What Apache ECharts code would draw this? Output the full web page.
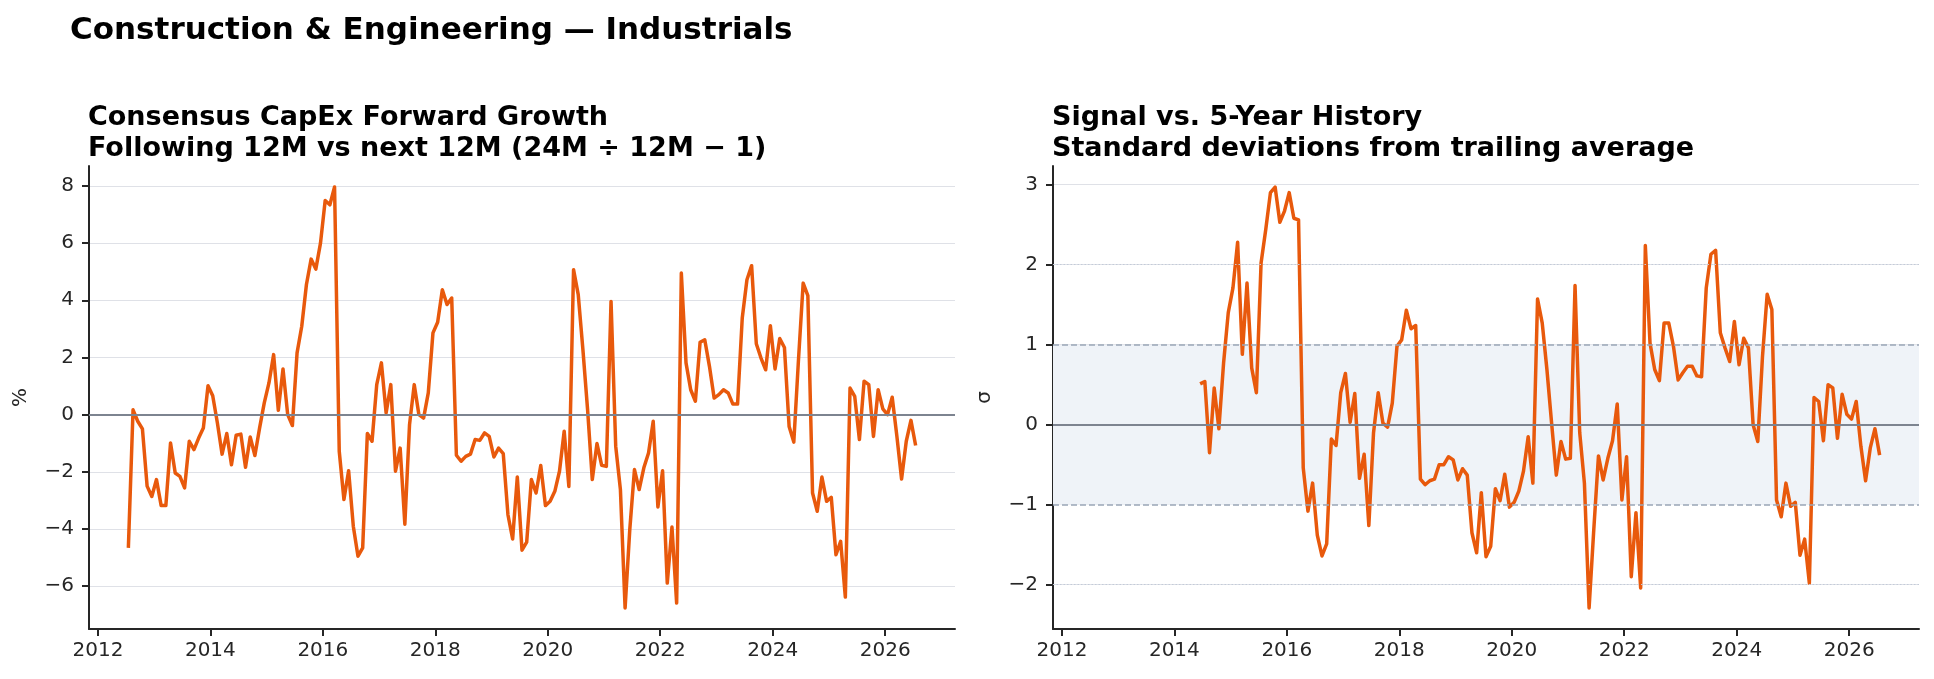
<!DOCTYPE html>
<html>
<head>
<meta charset="utf-8">
<script src="https://cdn.jsdelivr.net/npm/echarts@6.0.0/dist/echarts.min.js"></script>
<style>
html,body{margin:0;padding:0;background:#fff}
#main{width:1934px;height:679px}
</style>
</head>
<body>
<div id="main"></div>
<script>
// monthly series, first point 2012-07
var growthStart = [2012, 7];
var growth = [
    -4.66, 0.17, -0.23, -0.50, -2.50, -2.86,
    -2.27, -3.18, -3.18, -0.99, -2.04, -2.16, -2.56, -0.93, -1.22, -0.82, -0.47, 1.01,
    0.66, -0.29, -1.38, -0.66, -1.75, -0.72, -0.68, -1.84, -0.78, -1.43, -0.47, 0.41,
    1.11, 2.10, 0.15, 1.60, 0.00, -0.38, 2.16, 3.09, 4.55, 5.44, 5.09, 6.00,
    7.49, 7.34, 7.96, -1.28, -2.97, -1.96, -3.90, -4.95, -4.66, -0.66, -0.93, 1.05,
    1.81, 0.06, 1.05, -1.98, -1.17, -3.83, -0.35, 1.05, 0.00, -0.12, 0.76, 2.86,
    3.23, 4.37, 3.85, 4.08, -1.42, -1.63, -1.46, -1.38, -0.87, -0.90, -0.64, -0.76,
    -1.48, -1.17, -1.36, -3.50, -4.35, -2.18, -4.74, -4.46, -2.27, -2.74, -1.78, -3.18,
    -3.03, -2.68, -1.98, -0.58, -2.51, 5.07, 4.20, 2.27, 0.17, -2.27, -1.01, -1.77,
    -1.81, 3.96, -1.11, -2.62, -6.76, -4.02, -1.92, -2.62, -1.86, -1.34, -0.23, -3.23,
    -1.96, -5.89, -3.93, -6.59, 4.95, 1.81, 0.87, 0.47, 2.53, 2.62, 1.69, 0.58,
    0.70, 0.87, 0.76, 0.37, 0.37, 3.38, 4.72, 5.21, 2.48, 1.98, 1.57, 3.11,
    1.60, 2.66, 2.35, -0.41, -0.96, 1.92, 4.60, 4.16, -2.74, -3.38, -2.18, -3.03,
    -2.89, -4.90, -4.43, -6.38, 0.93, 0.64, -0.87, 1.17, 1.05, -0.76, 0.87, 0.20,
    0.00, 0.61, -0.76, -2.25, -0.93, -0.20, -1.08
];
// z-score vs 5y history, first point 2014-06
var zStart = [2014, 6];
var zscore = [
    0.51, 0.54, -0.35, 0.46, -0.05, 0.77, 1.40,
    1.71, 2.28, 0.88, 1.77, 0.71, 0.40, 2.02, 2.44, 2.90, 2.97, 2.53, 2.67,
    2.90, 2.58, 2.56, -0.54, -1.08, -0.73, -1.38, -1.64, -1.49, -0.18, -0.26, 0.40,
    0.64, 0.03, 0.39, -0.67, -0.37, -1.26, -0.10, 0.40, 0.02, -0.03, 0.27, 0.98,
    1.06, 1.43, 1.20, 1.24, -0.68, -0.75, -0.70, -0.68, -0.50, -0.50, -0.40, -0.44,
    -0.69, -0.55, -0.63, -1.35, -1.60, -0.85, -1.65, -1.52, -0.80, -0.95, -0.62, -1.03,
    -0.97, -0.83, -0.58, -0.15, -0.73, 1.57, 1.27, 0.69, 0.02, -0.63, -0.21, -0.43,
    -0.42, 1.74, -0.10, -0.73, -2.29, -1.31, -0.39, -0.69, -0.42, -0.20, 0.26, -0.94,
    -0.40, -1.90, -1.10, -2.04, 2.24, 1.02, 0.69, 0.55, 1.27, 1.27, 0.98, 0.56,
    0.65, 0.73, 0.73, 0.61, 0.60, 1.71, 2.13, 2.18, 1.15, 0.96, 0.79, 1.29,
    0.75, 1.08, 0.96, 0.00, -0.21, 0.85, 1.63, 1.44, -0.94, -1.15, -0.73, -1.02,
    -0.97, -1.63, -1.43, -1.98, 0.34, 0.29, -0.20, 0.50, 0.46, -0.17, 0.38, 0.13,
    0.07, 0.29, -0.27, -0.70, -0.29, -0.05, -0.38
];
var yearTicks = [2012, 2014, 2016, 2018, 2020, 2022, 2024, 2026];
var growthTicks = [-6, -4, -2, 0, 2, 4, 6, 8];
var zTicks = [-2, -1, 0, 1, 2, 3];

var FONT = 'DejaVu Sans';
var INK = '#262626';
var ORANGE = '#e8590c';

// month index -> decimal year (mid month)
function toPoints(start, vals) {
    return vals.map(function (v, i) {
        var m = start[1] - 1 + i;
        var y = start[0] + Math.floor(m / 12);
        return [y + ((m % 12) + 0.5) / 12, v];
    });
}
var growthPts = toPoints(growthStart, growth);
var zPts = toPoints(zStart, zscore);

// matplotlib-like 5% margins
function pad(lo, hi) {
    var r = hi - lo;
    return [lo - 0.05 * r, hi + 0.05 * r];
}
var xr = pad(growthPts[0][0], growthPts[growthPts.length - 1][0]);
var yrL = pad(Math.min.apply(null, growth), Math.max.apply(null, growth));
var yrR = pad(Math.min.apply(null, zscore), Math.max.apply(null, zscore));

function fmt(v) {
    return v < 0 ? '\u2212' + Math.abs(v) : String(v);
}

function xAxis(idx) {
    return {
        type: 'value', gridIndex: idx, min: xr[0], max: xr[1],
        axisLine: {show: true, onZero: false, lineStyle: {color: INK, width: 2}},
        axisTick: {show: true, length: 7, customValues: yearTicks, lineStyle: {color: INK, width: 2}},
        axisLabel: {customValues: yearTicks, fontSize: 20, fontFamily: FONT, color: INK, margin: 12,
            formatter: function (v) { return String(v); }},
        splitLine: {show: false}
    };
}
function yAxis(idx, range, ticks, name) {
    return {
        type: 'value', gridIndex: idx, min: range[0], max: range[1],
        name: name, nameLocation: 'middle', nameGap: 58,
        nameTextStyle: {fontSize: 20, fontFamily: FONT, color: INK},
        axisLine: {show: true, onZero: false, lineStyle: {color: INK, width: 2}},
        axisTick: {show: true, length: 7, customValues: ticks, lineStyle: {color: INK, width: 2}},
        axisLabel: {customValues: ticks, fontSize: 20, fontFamily: FONT, color: INK, margin: 15, formatter: fmt},
        splitLine: {show: true, lineStyle: {color: '#dfe1e7', width: 1}}
    };
}
function hline(v, color, width, type) {
    return {yAxis: v, lineStyle: {color: color, width: width, type: type}};
}

var chart = echarts.init(document.getElementById('main'));
var option = {
    animation: false,
    backgroundColor: '#fff',
    title: [
        {text: 'Construction & Engineering \u2014 Industrials', left: 70, top: 15, padding: 0,
            textStyle: {fontSize: 31, fontWeight: 'bold', fontFamily: FONT, color: '#000', lineHeight: 31}},
        {text: 'Consensus CapEx Forward Growth\nFollowing 12M vs next 12M (24M \u00f7 12M \u2212 1)', left: 88, top: 102, padding: 0,
            textStyle: {fontSize: 27, fontWeight: 'bold', fontFamily: FONT, color: '#000', lineHeight: 31}},
        {text: 'Signal vs. 5-Year History\nStandard deviations from trailing average', left: 1052, top: 102, padding: 0,
            textStyle: {fontSize: 27, fontWeight: 'bold', fontFamily: FONT, color: '#000', lineHeight: 31}}
    ],
    grid: [
        {left: 89, top: 166, width: 866, height: 463},
        {left: 1053, top: 166, width: 866, height: 463}
    ],
    xAxis: [xAxis(0), xAxis(1)],
    yAxis: [yAxis(0, yrL, growthTicks, '%'), yAxis(1, yrR, zTicks, '\u03c3')],
    series: [
        {
            type: 'line', xAxisIndex: 0, yAxisIndex: 0, data: [], z: 1, silent: true,
            markLine: {silent: true, symbol: ['none', 'none'], label: {show: false},
                data: [hline(0, '#7d8490', 2, 'solid')]}
        },
        {
            type: 'line', xAxisIndex: 0, yAxisIndex: 0, data: growthPts, z: 3,
            showSymbol: false, symbol: 'none',
            lineStyle: {color: ORANGE, width: 3.5, join: 'round'}
        },
        {
            type: 'line', xAxisIndex: 1, yAxisIndex: 1, data: [], z: 1, silent: true,
            markArea: {silent: true, itemStyle: {color: '#eff3f8'},
                data: [[{yAxis: -1}, {yAxis: 1}]]},
            markLine: {silent: true, symbol: ['none', 'none'], label: {show: false},
                data: [
                    hline(2, '#c3cbd8', 1, [1.5, 2]),
                    hline(-2, '#c3cbd8', 1, [1.5, 2]),
                    hline(1, '#9ba6b6', 1.5, [6, 3]),
                    hline(-1, '#9ba6b6', 1.5, [6, 3]),
                    hline(0, '#7d8490', 2, 'solid')
                ]}
        },
        {
            type: 'line', xAxisIndex: 1, yAxisIndex: 1, data: zPts, z: 3,
            showSymbol: false, symbol: 'none',
            lineStyle: {color: ORANGE, width: 3.5, join: 'round'}
        }
    ]
};
chart.setOption(option);
</script>
</body>
</html>
